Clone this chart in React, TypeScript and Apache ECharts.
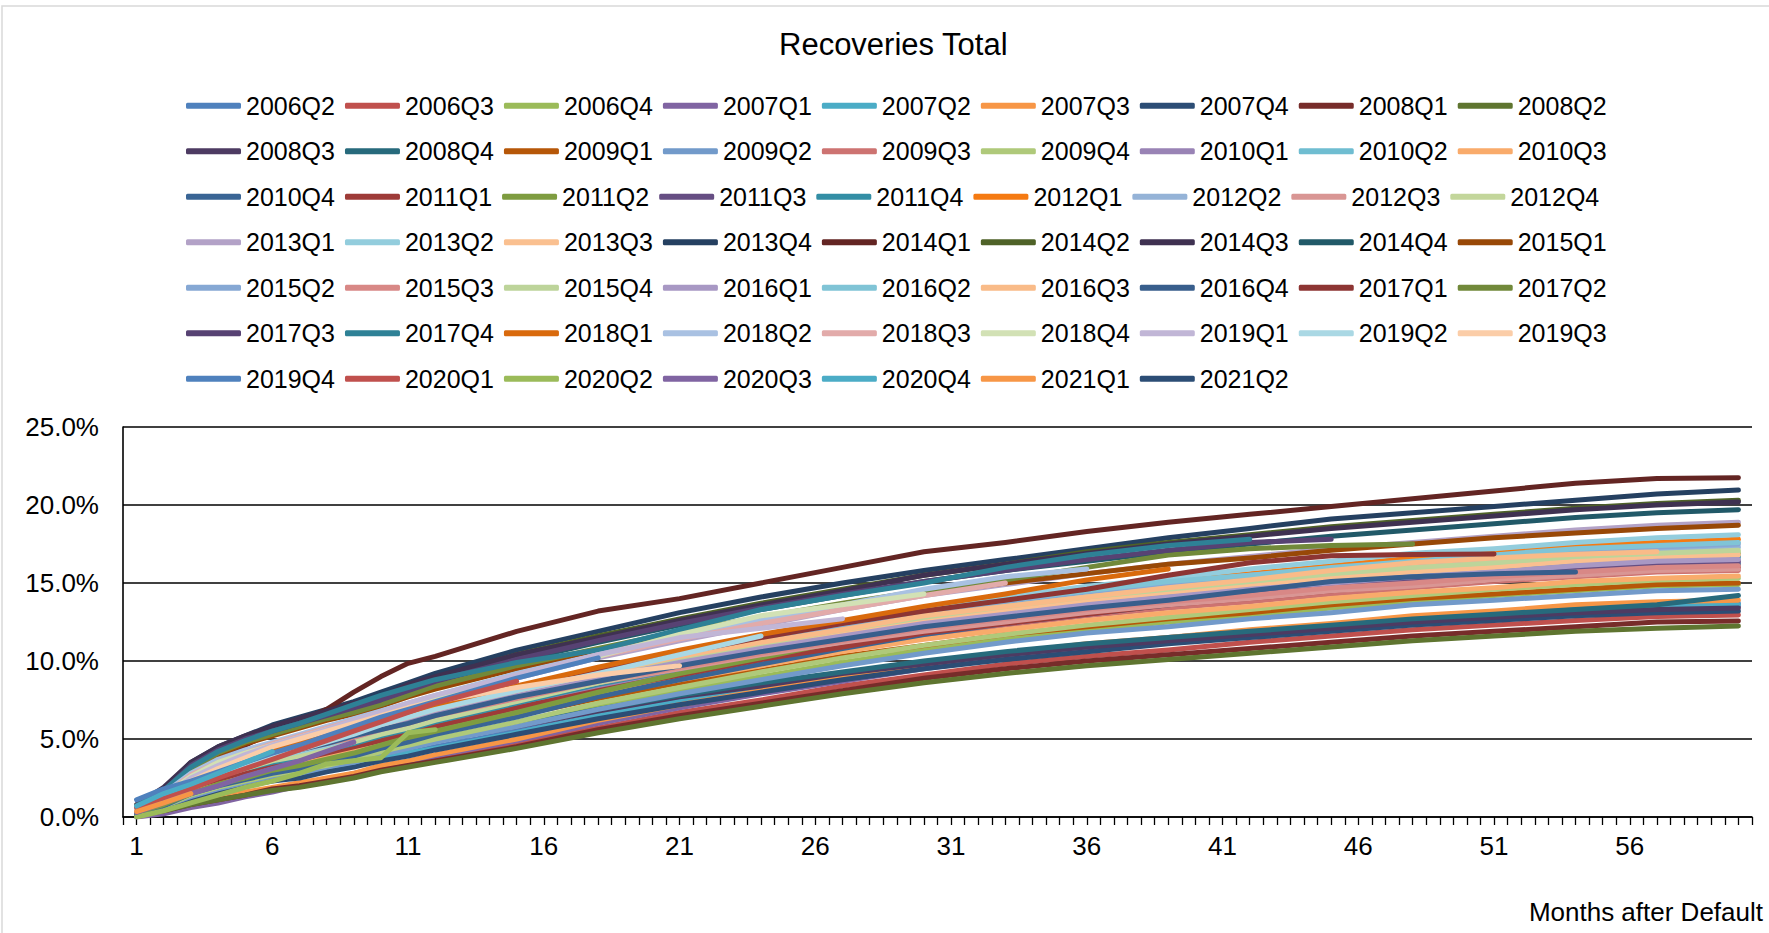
import React, { useEffect, useRef } from "react";
import * as echarts from "echarts";

const TITLE = "Recoveries Total";
const X_NAME = "Months after Default";
const Y_TICKS = [0, 5, 10, 15, 20, 25];

const MONTHS = [1, 2, 3, 4, 5, 6, 7, 8, 9, 10, 11, 12, 15, 18, 21, 24, 27, 30, 33, 36, 39, 42, 45, 48, 51, 54, 57, 60];

const COHORTS = [
  "2006Q2", "2006Q3", "2006Q4", "2007Q1", "2007Q2", "2007Q3", "2007Q4", "2008Q1", "2008Q2",
  "2008Q3", "2008Q4", "2009Q1", "2009Q2", "2009Q3", "2009Q4", "2010Q1", "2010Q2", "2010Q3",
  "2010Q4", "2011Q1", "2011Q2", "2011Q3", "2011Q4", "2012Q1", "2012Q2", "2012Q3", "2012Q4",
  "2013Q1", "2013Q2", "2013Q3", "2013Q4", "2014Q1", "2014Q2", "2014Q3", "2014Q4", "2015Q1",
  "2015Q2", "2015Q3", "2015Q4", "2016Q1", "2016Q2", "2016Q3", "2016Q4", "2017Q1", "2017Q2",
  "2017Q3", "2017Q4", "2018Q1", "2018Q2", "2018Q3", "2018Q4", "2019Q1", "2019Q2", "2019Q3",
  "2019Q4", "2020Q1", "2020Q2", "2020Q3", "2020Q4", "2021Q1", "2021Q2",
];

const COLORS = [
  "#4F81BD", "#C0504D", "#9BBB59", "#8064A2", "#4BACC6", "#F79646", "#2C4D75", "#772C2A", "#5F7530",
  "#4D3B62", "#276A7C", "#B65708", "#729ACA", "#CD7371", "#AFC97A", "#9983B5", "#6FBDD1", "#F9AB6B",
  "#3A6595", "#9E3B38", "#7E9C40", "#664E83", "#338EA5", "#F57A12", "#95B3D7", "#D99694", "#C3D69B",
  "#B3A2C7", "#93CDDD", "#FAC090", "#254061", "#632523", "#4F6228", "#3F3151", "#215968", "#984807",
  "#86A8D4", "#D88886", "#BDD49A", "#A898C4", "#80C4D6", "#F9BB88", "#385E8C", "#8D3533", "#71893A",
  "#574273", "#2E8196", "#D96A0D", "#A9C1E2", "#E2ABAA", "#D2E1B5", "#C1B6D6", "#AAD8E4", "#FBCDA8",
  "#4F81BD", "#C0504D", "#9BBB59", "#8064A2", "#4BACC6", "#F79646", "#2C4D75",
];

// cumulative recoveries (%) per cohort, one value per entry of MONTHS (shorter for recent cohorts)
const VALUES: number[][] = [
  /* 2006Q2 */ [0.2, 0.6, 1.2, 1.7, 2.0, 2.4, 2.6, 3.0, 3.3, 3.8, 4.1, 4.5, 5.5, 6.5, 7.5, 8.3, 9.1, 9.9, 10.5, 11.0, 11.5, 11.9, 12.3, 12.7, 13.0, 13.4, 13.6, 13.7],
  /* 2006Q3 */ [0.1, 0.4, 0.9, 1.2, 1.5, 1.8, 2.0, 2.3, 2.7, 3.1, 3.4, 3.7, 4.7, 5.7, 6.7, 7.5, 8.4, 9.1, 9.8, 10.3, 10.7, 11.2, 11.6, 12.0, 12.3, 12.6, 12.85, 12.95],
  /* 2006Q4 */ [0.2, 0.7, 1.4, 1.8, 2.2, 2.6, 2.9, 3.2, 3.6, 4.1, 4.5, 4.9, 5.9, 7.1, 8.1, 9.0, 9.9, 10.7, 11.4, 12.0, 12.5, 12.9, 13.4, 13.8, 14.2, 14.5, 14.8, 14.9],
  /* 2007Q1 */ [0.0, 0.2, 0.6, 0.9, 1.3, 1.6, 2.0, 2.4, 2.8, 3.2, 3.5, 3.9, 4.9, 6.0, 7.0, 7.9, 8.7, 9.5, 10.2, 10.7, 11.2, 11.6, 12.1, 12.5, 12.8, 13.2, 13.4, 13.5],
  /* 2007Q2 */ [0.2, 0.6, 1.2, 1.7, 2.0, 2.4, 2.6, 3.0, 3.3, 3.7, 4.1, 4.4, 5.4, 6.5, 7.4, 8.2, 9.1, 9.8, 10.4, 10.9, 11.4, 11.8, 12.2, 12.6, 12.9, 13.3, 13.5, 13.6],
  /* 2007Q3 */ [0.1, 0.5, 0.9, 1.3, 1.6, 1.9, 2.2, 2.5, 2.8, 3.3, 3.6, 4.0, 5.0, 6.2, 7.2, 8.1, 9.0, 9.8, 10.5, 11.1, 11.5, 12.0, 12.4, 12.9, 13.2, 13.6, 13.8, 13.9],
  /* 2007Q4 */ [0.2, 0.6, 1.2, 1.6, 2.0, 2.3, 2.5, 2.9, 3.2, 3.6, 3.9, 4.3, 5.3, 6.3, 7.2, 8.0, 8.8, 9.5, 10.1, 10.6, 11.1, 11.5, 11.9, 12.3, 12.6, 12.9, 13.1, 13.2],
  /* 2008Q1 */ [0.1, 0.4, 0.8, 1.1, 1.4, 1.8, 2.0, 2.3, 2.6, 3.0, 3.3, 3.6, 4.5, 5.6, 6.5, 7.3, 8.1, 8.9, 9.5, 10.0, 10.4, 10.8, 11.2, 11.6, 11.9, 12.2, 12.5, 12.56],
  /* 2008Q2 */ [0.1, 0.4, 0.8, 1.1, 1.4, 1.7, 1.9, 2.2, 2.5, 2.9, 3.2, 3.5, 4.4, 5.4, 6.3, 7.1, 7.9, 8.6, 9.2, 9.7, 10.1, 10.5, 10.9, 11.3, 11.6, 11.9, 12.1, 12.24],
  /* 2008Q3 */ [0.3, 0.8, 1.6, 2.1, 2.5, 2.8, 3.1, 3.4, 3.8, 4.1, 4.5, 4.9, 5.8, 6.8, 7.7, 8.4, 9.2, 9.8, 10.4, 10.9, 11.3, 11.7, 12.1, 12.5, 12.8, 13.1, 13.3, 13.4],
  /* 2008Q4 */ [0.3, 0.8, 1.6, 2.1, 2.5, 2.9, 3.1, 3.5, 3.8, 4.2, 4.6, 5.0, 5.9, 6.9, 7.8, 8.6, 9.3, 10.0, 10.6, 11.1, 11.5, 11.9, 12.3, 12.7, 13.0, 13.3, 13.6, 14.2],
  /* 2009Q1 */ [0.3, 0.9, 1.7, 2.3, 2.7, 3.2, 3.5, 3.8, 4.2, 4.6, 5.0, 5.5, 6.5, 7.6, 8.6, 9.4, 10.3, 11.0, 11.7, 12.2, 12.7, 13.1, 13.6, 14.0, 14.3, 14.6, 14.9, 15.0],
  /* 2009Q2 */ [0.2, 0.7, 1.3, 1.8, 2.2, 2.6, 2.8, 3.2, 3.5, 4.0, 4.4, 4.8, 5.8, 6.9, 7.9, 8.8, 9.7, 10.5, 11.2, 11.8, 12.2, 12.7, 13.1, 13.6, 13.9, 14.2, 14.5, 14.6],
  /* 2009Q3 */ [0.3, 0.9, 1.8, 2.4, 2.9, 3.3, 3.6, 4.0, 4.4, 4.9, 5.3, 5.8, 6.9, 8.0, 9.0, 9.9, 10.8, 11.6, 12.3, 12.9, 13.4, 13.8, 14.3, 14.7, 15.1, 15.4, 15.7, 15.8],
  /* 2009Q4 */ [0.2, 0.7, 1.4, 1.9, 2.3, 2.7, 3.0, 3.3, 3.7, 4.2, 4.6, 5.0, 6.1, 7.3, 8.3, 9.3, 10.2, 11.0, 11.7, 12.3, 12.8, 13.3, 13.8, 14.2, 14.6, 14.9, 15.2, 15.3],
  /* 2010Q1 */ [0.4, 1.0, 1.9, 2.5, 3.0, 3.4, 3.7, 4.2, 4.6, 5.0, 5.5, 5.9, 7.1, 8.3, 9.3, 10.3, 11.1, 12.0, 12.7, 13.3, 13.8, 14.3, 14.7, 15.2, 15.5, 15.9, 16.2, 16.3],
  /* 2010Q2 */ [0.2, 0.8, 1.5, 2.0, 2.5, 2.9, 3.2, 3.6, 4.0, 4.5, 5.0, 5.4, 6.6, 7.9, 9.0, 10.1, 11.1, 12.0, 12.7, 13.4, 13.9, 14.4, 14.9, 15.4, 15.8, 16.2, 16.5, 16.6],
  /* 2010Q3 */ [0.3, 0.9, 1.8, 2.4, 2.8, 3.2, 3.6, 3.9, 4.3, 4.8, 5.2, 5.6, 6.7, 7.8, 8.8, 9.7, 10.6, 11.4, 12.0, 12.6, 13.1, 13.5, 14.0, 14.4, 14.7, 15.1, 15.3, 15.45],
  /* 2010Q4 */ [0.2, 0.7, 1.5, 2.0, 2.4, 2.8, 3.1, 3.5, 3.9, 4.4, 4.8, 5.3, 6.4, 7.7, 8.8, 9.8, 10.8, 11.7, 12.4, 13.0, 13.6, 14.1, 14.6, 15.0, 15.4, 15.8, 16.1, 16.2],
  /* 2011Q1 */ [0.4, 0.9, 1.9, 2.4, 2.9, 3.4, 3.7, 4.1, 4.5, 4.9, 5.4, 5.8, 7.0, 8.1, 9.1, 10.1, 10.9, 11.8, 12.4, 13.0, 13.6, 14.0, 14.5, 14.9, 15.2, 15.6, 15.9, 16.0],
  /* 2011Q2 */ [0.3, 0.8, 1.5, 2.1, 2.5, 3.0, 3.3, 3.7, 4.1, 4.6, 5.1, 5.5, 6.7, 8.0, 9.2, 10.2, 11.3, 12.2, 12.9, 13.6, 14.2, 14.7, 15.2, 15.7, 16.1, 16.5, 16.8, 16.9],
  /* 2011Q3 */ [0.5, 1.2, 2.3, 3.0, 3.6, 4.0, 4.4, 4.8, 5.2, 5.7, 6.1, 6.6, 7.8, 8.8, 9.8, 10.7, 11.5, 12.3, 12.9, 13.5, 14.0, 14.5, 14.9, 15.3, 15.6, 16.0, 16.3, 16.4],
  /* 2011Q4 */ [0.4, 1.0, 1.9, 2.6, 3.1, 3.5, 3.8, 4.3, 4.7, 5.2, 5.6, 6.1, 7.3, 8.5, 9.5, 10.5, 11.4, 12.3, 13.0, 13.6, 14.1, 14.6, 15.1, 15.5, 15.9, 16.3, 16.5, 16.7],
  /* 2012Q1 */ [0.4, 1.1, 2.1, 2.7, 3.3, 3.7, 4.1, 4.5, 5.0, 5.5, 6.0, 6.5, 7.7, 9.0, 10.2, 11.2, 12.2, 13.1, 13.8, 14.5, 15.1, 15.6, 16.1, 16.6, 17.0, 17.4, 17.6, 17.8],
  /* 2012Q2 */ [0.5, 1.2, 2.4, 3.2, 3.8, 4.2, 4.6, 5.1, 5.5, 6.0, 6.5, 7.0, 8.2, 9.3, 10.3, 11.3, 12.1, 13.0, 13.6, 14.3, 14.8, 15.3, 15.7, 16.1, 16.5, 16.9, 17.1, 17.3],
  /* 2012Q3 */ [0.5, 1.1, 2.2, 2.9, 3.5, 3.9, 4.3, 4.7, 5.1, 5.5, 5.9, 6.4, 7.5, 8.6, 9.5, 10.4, 11.2, 11.9, 12.5, 13.1, 13.6, 14.0, 14.5, 14.8, 15.2, 15.5, 15.8, 15.9],
  /* 2012Q4 */ [0.4, 1.0, 2.0, 2.6, 3.1, 3.6, 3.9, 4.3, 4.8, 5.3, 5.7, 6.2, 7.4, 8.6, 9.7, 10.7, 11.6, 12.5, 13.2, 13.9, 14.4, 14.9, 15.4, 15.8, 16.2, 16.6, 16.8, 17.0],
  /* 2013Q1 */ [0.5, 1.4, 2.7, 3.5, 4.1, 4.6, 5.1, 5.5, 6.0, 6.5, 7.0, 7.6, 8.9, 10.2, 11.3, 12.3, 13.3, 14.2, 14.9, 15.6, 16.2, 16.7, 17.2, 17.6, 18.0, 18.4, 18.7, 18.9],
  /* 2013Q2 */ [0.4, 1.1, 2.1, 2.8, 3.3, 3.8, 4.2, 4.6, 5.1, 5.6, 6.1, 6.6, 7.9, 9.2, 10.3, 11.4, 12.4, 13.3, 14.1, 14.8, 15.3, 15.9, 16.4, 16.9, 17.2, 17.6, 17.9, 18.1],
  /* 2013Q3 */ [0.5, 1.2, 2.4, 3.1, 3.6, 4.1, 4.5, 4.9, 5.3, 5.8, 6.3, 6.8, 7.9, 9.1, 10.0, 11.0, 11.8, 12.6, 13.3, 13.9, 14.4, 14.8, 15.3, 15.7, 16.0, 16.4, 16.6, 16.8],
  /* 2013Q4 */ [0.7, 1.8, 3.5, 4.5, 5.2, 5.9, 6.4, 6.9, 7.4, 8.0, 8.6, 9.2, 10.7, 11.9, 13.1, 14.1, 15.0, 15.8, 16.5, 17.2, 17.9, 18.5, 19.1, 19.5, 19.9, 20.3, 20.7, 20.96],
  /* 2014Q1 */ [0.7, 1.5, 2.8, 3.8, 4.6, 5.4, 6.1, 6.9, 8.0, 9.0, 9.85, 10.3, 11.9, 13.2, 14.0, 15.0, 16.0, 17.0, 17.6, 18.3, 18.9, 19.4, 19.9, 20.4, 20.9, 21.4, 21.7, 21.75],
  /* 2014Q2 */ [0.7, 1.7, 3.3, 4.4, 5.1, 5.7, 6.2, 6.7, 7.2, 7.7, 8.3, 8.9, 10.4, 11.6, 12.7, 13.7, 14.6, 15.5, 16.2, 17.0, 17.6, 18.1, 18.6, 19.0, 19.4, 19.8, 20.1, 20.3],
  /* 2014Q3 */ [0.8, 1.9, 3.5, 4.5, 5.2, 5.8, 6.3, 6.8, 7.3, 7.7, 8.5, 9.0, 10.4, 11.5, 12.6, 13.6, 14.5, 15.5, 16.2, 16.9, 17.5, 18.0, 18.5, 18.9, 19.3, 19.7, 20.0, 20.2],
  /* 2014Q4 */ [0.7, 1.7, 3.3, 4.2, 4.9, 5.5, 6.0, 6.5, 7.0, 7.5, 8.1, 8.7, 10.0, 11.2, 12.3, 13.3, 14.2, 15.1, 15.8, 16.4, 17.0, 17.5, 18.0, 18.4, 18.8, 19.2, 19.5, 19.7],
  /* 2015Q1 */ [0.7, 1.6, 3.1, 4.0, 4.7, 5.2, 5.7, 6.2, 6.6, 7.1, 7.7, 8.2, 9.5, 10.7, 11.7, 12.6, 13.5, 14.3, 15.0, 15.6, 16.2, 16.6, 17.1, 17.5, 17.9, 18.2, 18.5, 18.7],
  /* 2015Q2 */ [0.5, 1.3, 2.5, 3.2, 3.8, 4.3, 4.7, 5.1, 5.6, 6.0, 6.5, 7.0, 8.3, 9.4, 10.5, 11.4, 12.3, 13.1, 13.8, 14.4, 15.0, 15.5, 15.9, 16.3, 16.7, 17.1, 17.3, 17.5],
  /* 2015Q3 */ [0.5, 1.2, 2.3, 3.0, 3.5, 3.9, 4.3, 4.7, 5.1, 5.6, 6.0, 6.5, 7.6, 8.7, 9.6, 10.5, 11.3, 12.1, 12.7, 13.3, 13.8, 14.2, 14.7, 15.0, 15.4, 15.7, 16.0, 16.1],
  /* 2015Q4 */ [0.5, 1.2, 2.4, 3.1, 3.7, 4.2, 4.6, 5.0, 5.4, 5.9, 6.4, 6.9, 8.1, 9.2, 10.2, 11.1, 12.0, 12.8, 13.5, 14.1, 14.6, 15.1, 15.6, 16.0, 16.3, 16.7, 16.9, 17.1],
  /* 2016Q1 */ [0.5, 1.2, 2.3, 3.0, 3.6, 4.0, 4.4, 4.8, 5.2, 5.7, 6.2, 6.6, 7.8, 8.9, 9.9, 10.8, 11.6, 12.4, 13.0, 13.6, 14.1, 14.6, 15.0, 15.4, 15.7, 16.1, 16.4, 16.5],
  /* 2016Q2 */ [0.5, 1.3, 2.5, 3.2, 3.8, 4.3, 4.7, 5.2, 5.6, 6.1, 6.6, 7.1, 8.3, 9.5, 10.5, 11.5, 12.4, 13.2, 13.9, 14.5, 15.1, 15.5, 16.0, 16.4, 16.8, 17.2, 17.4, 17.6],
  /* 2016Q3 */ [0.5, 1.2, 2.4, 3.2, 3.7, 4.2, 4.6, 5.0, 5.5, 5.9, 6.4, 6.9, 8.1, 9.2, 10.3, 11.2, 12.0, 12.9, 13.5, 14.1, 14.7, 15.2, 15.8, 16.3, 16.6, 16.85, 17.0],
  /* 2016Q4 */ [0.5, 1.2, 2.3, 3.0, 3.5, 4.0, 4.3, 4.7, 5.2, 5.6, 6.0, 6.5, 7.7, 8.7, 9.7, 10.6, 11.4, 12.2, 12.8, 13.4, 13.9, 14.5, 15.1, 15.4, 15.6, 15.7],
  /* 2017Q1 */ [0.5, 1.3, 2.5, 3.2, 3.8, 4.3, 4.7, 5.2, 5.6, 6.1, 6.6, 7.1, 8.3, 9.5, 10.5, 11.5, 12.4, 13.2, 13.9, 14.6, 15.5, 16.3, 16.75, 16.82, 16.86],
  /* 2017Q2 */ [0.7, 1.6, 3.1, 4.1, 4.8, 5.3, 5.8, 6.3, 6.7, 7.2, 7.8, 8.4, 9.7, 10.8, 11.9, 12.8, 13.7, 14.5, 15.2, 16.0, 16.8, 17.2, 17.4, 17.5],
  /* 2017Q3 */ [0.7, 1.7, 3.3, 4.3, 5.0, 5.5, 6.0, 6.5, 7.0, 7.5, 8.1, 8.7, 10.1, 11.3, 12.4, 13.4, 14.3, 15.1, 15.8, 16.5, 17.1, 17.6, 17.8],
  /* 2017Q4 */ [0.7, 1.7, 3.2, 4.2, 4.9, 5.5, 6.0, 6.6, 7.2, 7.8, 8.3, 8.8, 9.9, 10.7, 12.0, 13.3, 14.2, 15.0, 16.0, 16.8, 17.4, 17.8],
  /* 2018Q1 */ [0.5, 1.2, 2.4, 3.2, 3.8, 4.3, 4.7, 5.2, 5.6, 6.1, 6.6, 7.1, 8.4, 9.6, 10.7, 11.7, 12.6, 13.5, 14.3, 15.2, 15.9],
  /* 2018Q2 */ [0.6, 1.5, 2.8, 3.7, 4.3, 4.8, 5.3, 5.8, 6.3, 6.8, 7.3, 7.8, 9.2, 10.4, 11.6, 12.6, 13.6, 14.6, 15.4, 15.9],
  /* 2018Q3 */ [0.6, 1.4, 2.7, 3.5, 4.1, 4.7, 5.2, 5.7, 6.2, 6.7, 7.2, 7.7, 9.0, 10.3, 11.4, 12.4, 13.3, 14.2, 15.0],
  /* 2018Q4 */ [0.6, 1.4, 2.6, 3.5, 4.1, 4.6, 5.1, 5.6, 6.1, 6.6, 7.1, 7.6, 9.0, 10.3, 11.7, 12.9, 13.6, 14.3],
  /* 2019Q1 */ [0.5, 1.3, 2.5, 3.3, 4.0, 4.6, 5.1, 5.6, 6.2, 6.7, 7.3, 7.8, 9.1, 10.4, 11.5, 12.1, 12.7],
  /* 2019Q2 */ [0.4, 1.0, 1.9, 2.6, 3.2, 3.8, 4.3, 4.8, 5.3, 5.9, 6.4, 6.9, 8.1, 9.2, 10.4, 11.6],
  /* 2019Q3 */ [0.6, 1.3, 2.3, 3.1, 3.8, 4.5, 5.0, 5.5, 6.0, 6.5, 7.0, 7.4, 8.3, 9.1, 9.7],
  /* 2019Q4 */ [1.1, 1.8, 2.3, 2.9, 3.5, 4.1, 4.6, 5.2, 5.8, 6.4, 6.9, 7.4, 8.9, 10.2],
  /* 2020Q1 */ [0.6, 1.2, 1.8, 2.5, 3.1, 3.7, 4.3, 4.9, 5.5, 6.1, 6.7, 7.3, 8.7],
  /* 2020Q2 */ [0.0, 0.4, 0.9, 1.4, 1.9, 2.3, 2.8, 3.4, 3.6, 3.8, 5.4, 5.6],
  /* 2020Q3 */ [0.3, 0.9, 1.5, 2.0, 2.6, 3.1, 3.6, 4.2, 4.8],
  /* 2020Q4 */ [0.7, 1.5, 2.1, 2.8, 3.5, 4.2],
  /* 2021Q1 */ [0.35, 0.9, 1.5],
  /* 2021Q2 */ [],
];

const FONT = "'Liberation Sans', Arial, Helvetica, sans-serif";

export default function App() {
  const ref = useRef<HTMLDivElement>(null);

  useEffect(() => {
    document.body.style.margin = "0";
    if (!ref.current) return;
    const chart = echarts.init(ref.current, undefined, { renderer: "svg" });

    const series = COHORTS.map((name, i) => ({
      name,
      type: "line",
      data: (VALUES[i] || []).map((v, j) => [MONTHS[j], v]),
      symbol: "none",
      silent: true,
      color: COLORS[i],
      lineStyle: { width: 5, color: COLORS[i], cap: "round", join: "round" },
      emphasis: { disabled: true },
      z: 3,
    }));

    chart.setOption({
      animation: false,
      textStyle: { fontFamily: FONT },
      title: {
        text: TITLE,
        left: 779,
        top: 29,
        padding: 0,
        textStyle: { fontFamily: FONT, fontSize: 31, fontWeight: "normal", color: "#000" },
      },
      legend: {
        type: "plain",
        left: 186,
        top: 88,
        width: 1430,
        padding: 0,
        itemWidth: 55,
        itemHeight: 6,
        itemGap: 10,
        icon: "roundRect",
        selectedMode: false,
        data: COHORTS,
        textStyle: { fontFamily: FONT, fontSize: 25, color: "#000", lineHeight: 35.5 },
      },
      grid: { left: 123, right: 17, top: 427, bottom: 116, containLabel: false },
      xAxis: {
        type: "value",
        min: 0.5,
        max: 60.5,
        interval: 0.5,
        axisLine: { show: true, onZero: false, lineStyle: { color: "#000", width: 1.6 } },
        axisTick: { show: true, inside: false, length: 8, lineStyle: { color: "#000", width: 1.3 } },
        splitLine: { show: false },
        axisLabel: {
          margin: 16,
          fontFamily: FONT,
          fontSize: 26,
          color: "#000",
          formatter: (v: number) => {
            const r = Math.round(v);
            if (Math.abs(v - r) > 1e-6) return "";
            return (r - 1) % 5 === 0 ? String(r) : "";
          },
        },
      },
      yAxis: {
        type: "value",
        min: Y_TICKS[0],
        max: Y_TICKS[Y_TICKS.length - 1],
        interval: 5,
        axisLine: { show: true, onZero: false, lineStyle: { color: "#000", width: 1.6 } },
        axisTick: { show: false },
        splitLine: { show: true, lineStyle: { color: "#000", width: 1.6 } },
        axisLabel: {
          margin: 24,
          fontFamily: FONT,
          fontSize: 26,
          color: "#000",
          formatter: (v: number) => v.toFixed(1) + "%",
        },
      },
      graphic: [
        {
          type: "rect",
          shape: { x: 2, y: 6, width: 1800, height: 1000 },
          style: { fill: "none", stroke: "#D9D9D9", lineWidth: 1.5 },
          silent: true,
          z: -10,
        },
        {
          type: "text",
          right: 6,
          top: 899,
          style: { text: X_NAME, fontFamily: FONT, fontSize: 26, fill: "#000" },
          silent: true,
        },
      ],
      series,
    });

    return () => chart.dispose();
  }, []);

  return (
    <div
      ref={ref}
      style={{ position: "fixed", left: 0, top: 0, width: 1769, height: 933, background: "#fff" }}
    />
  );
}
